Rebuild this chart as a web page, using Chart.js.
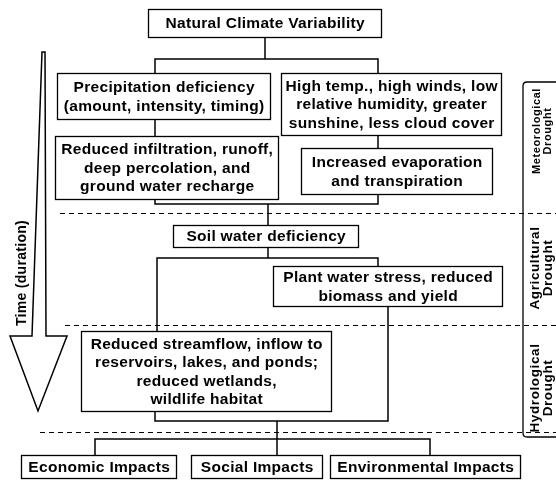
<!DOCTYPE html>
<html>
<head>
<meta charset="utf-8">
<script src="https://cdn.jsdelivr.net/npm/chart.js@4.4.1/dist/chart.umd.min.js"></script>
<style>
  html, body { margin: 0; padding: 0; background: #fff; }
  #wrap { width: 556px; height: 481px; }
</style>
</head>
<body>
<div id="wrap"><canvas id="flow" width="556" height="481"></canvas></div>
<script>
// Box texts (one entry per box, lines inside)
const boxTexts = [
  ["Natural Climate Variability"],
  ["Precipitation deficiency", "(amount, intensity, timing)"],
  ["High temp., high winds, low", "relative humidity, greater", "sunshine, less cloud cover"],
  ["Reduced infiltration, runoff,", "deep percolation, and", "ground water recharge"],
  ["Increased evaporation", "and transpiration"],
  ["Soil water deficiency"],
  ["Plant water stress, reduced", "biomass and yield"],
  ["Reduced streamflow, inflow to", "reservoirs, lakes, and ponds;", "reduced wetlands,", "wildlife habitat"],
  ["Economic Impacts"],
  ["Social Impacts"],
  ["Environmental Impacts"],
];

// Drought stage labels on the right side
const stageLabels = [
  ["Meteorological", "Drought"],
  ["Agricultural", "Drought"],
  ["Hydrological", "Drought"],
];

const timeLabel = "Time (duration)";

// Layout, in diagram units (x 0-556, y 0-481 from top)
const boxRects = [
  [148, 9, 381, 37],
  [57, 73, 270, 119],
  [281, 73, 501, 135],
  [55, 136, 278, 199],
  [301, 148, 492, 194],
  [173, 225, 358, 247],
  [273, 266, 502, 306],
  [81, 331, 331, 411],
  [21, 455, 176, 478],
  [191, 455, 322, 478],
  [330, 455, 520, 478],
];

const connectors = [
  [[265, 37], [265, 59]],
  [[155, 73], [155, 59], [378, 59], [378, 73]],
  [[155, 119], [155, 136]],
  [[378, 135], [378, 148]],
  [[155, 199], [155, 204], [378, 204], [378, 194]],
  [[268, 204], [268, 225]],
  [[268, 247], [268, 258]],
  [[157, 331], [157, 258], [378, 258], [378, 266]],
  [[155, 411], [155, 421], [388, 421], [388, 306]],
  [[277, 421], [277, 455]],
  [[95, 455], [95, 439], [430, 439], [430, 455]],
];

const dashedLines = [
  [[60, 213], [556, 213]],
  [[65, 325], [556, 325]],
  [[40, 432], [556, 432]],
];

const stageCenters = [131, 268, 388];
const stageFonts = [11, 13.5, 13.5];

const arrowShape = [
  [42, 52], [45, 52], [46, 336], [67, 336], [38, 411], [10, 336], [32, 336],
];

const FONT = "'Liberation Sans', Arial, sans-serif";

const flowPlugin = {
  id: "flowDraw",
  afterDraw(chart) {
    const ctx = chart.ctx;
    const xs = chart.scales.x;
    const ys = chart.scales.y;
    const px = (v) => xs.getPixelForValue(v);
    const py = (v) => ys.getPixelForValue(v);

    ctx.save();
    ctx.strokeStyle = "#000";
    ctx.fillStyle = "#000";

    // dashed stage separators
    ctx.lineWidth = 1;
    ctx.setLineDash([5, 4]);
    dashedLines.forEach((ln) => {
      ctx.beginPath();
      ctx.moveTo(px(ln[0][0]), py(ln[0][1]) + 0.5);
      ctx.lineTo(px(ln[1][0]), py(ln[1][1]) + 0.5);
      ctx.stroke();
    });
    ctx.setLineDash([]);

    // connectors
    ctx.lineWidth = 1.5;
    connectors.forEach((path) => {
      ctx.beginPath();
      path.forEach((p, i) => {
        if (i === 0) ctx.moveTo(px(p[0]), py(p[1]));
        else ctx.lineTo(px(p[0]), py(p[1]));
      });
      ctx.stroke();
    });

    // boxes
    ctx.font = "bold 15.5px " + FONT;
    ctx.letterSpacing = "0.3px";
    ctx.textAlign = "center";
    ctx.textBaseline = "middle";
    boxRects.forEach((r, i) => {
      const x0 = px(r[0]), y0 = py(r[1]), x1 = px(r[2]), y1 = py(r[3]);
      ctx.fillStyle = "#fff";
      ctx.fillRect(x0, y0, x1 - x0, y1 - y0);
      ctx.lineWidth = 1.3;
      ctx.strokeRect(x0 + 0.5, y0 + 0.5, x1 - x0, y1 - y0);
      ctx.fillStyle = "#000";
      const lines = boxTexts[i];
      const lh = 18.5;
      const cy = (y0 + y1) / 2 + 1;
      lines.forEach((t, k) => {
        ctx.fillText(t, (x0 + x1) / 2 + 0.7, cy + (k - (lines.length - 1) / 2) * lh);
      });
    });

    // stage bracket on the right
    const bx = px(523), bt = py(82), bb = py(437), br = px(556);
    ctx.lineWidth = 1.3;
    ctx.beginPath();
    ctx.moveTo(br, bt);
    ctx.lineTo(bx + 4, bt);
    ctx.quadraticCurveTo(bx, bt, bx, bt + 4);
    ctx.lineTo(bx, bb - 4);
    ctx.quadraticCurveTo(bx, bb, bx + 4, bb);
    ctx.lineTo(br, bb);
    ctx.stroke();

    ctx.letterSpacing = "0.6px";
    stageLabels.forEach((lines, i) => {
      ctx.font = "bold " + stageFonts[i] + "px " + FONT;
      const h = stageFonts[i] / 2;
      ctx.save();
      ctx.translate(px(542), py(stageCenters[i]));
      ctx.rotate(-Math.PI / 2);
      ctx.fillText(lines[0], 0, -h);
      ctx.fillText(lines[1], 0, h);
      ctx.restore();
    });

    // time arrow
    ctx.lineWidth = 1.5;
    ctx.beginPath();
    arrowShape.forEach((p, i) => {
      if (i === 0) ctx.moveTo(px(p[0]), py(p[1]));
      else ctx.lineTo(px(p[0]), py(p[1]));
    });
    ctx.closePath();
    ctx.stroke();

    ctx.font = "bold 14px " + FONT;
    ctx.letterSpacing = "0.3px";
    ctx.save();
    ctx.translate(px(22), py(273));
    ctx.rotate(-Math.PI / 2);
    ctx.fillText(timeLabel, 0, 0);
    ctx.restore();

    ctx.restore();
  },
};

const ctx = document.getElementById("flow").getContext("2d");
new Chart(ctx, {
  type: "scatter",
  data: {
    datasets: [
      {
        label: "boxes",
        data: boxRects.map((r) => ({ x: (r[0] + r[2]) / 2, y: (r[1] + r[3]) / 2 })),
        pointRadius: 0,
      },
    ],
  },
  options: {
    responsive: false,
    animation: false,
    layout: { padding: 0 },
    plugins: { legend: { display: false }, tooltip: { enabled: false } },
    scales: {
      x: { type: "linear", min: 0, max: 556, display: false },
      y: { type: "linear", min: 0, max: 481, reverse: true, display: false },
    },
  },
  plugins: [flowPlugin],
});
</script>
</body>
</html>
